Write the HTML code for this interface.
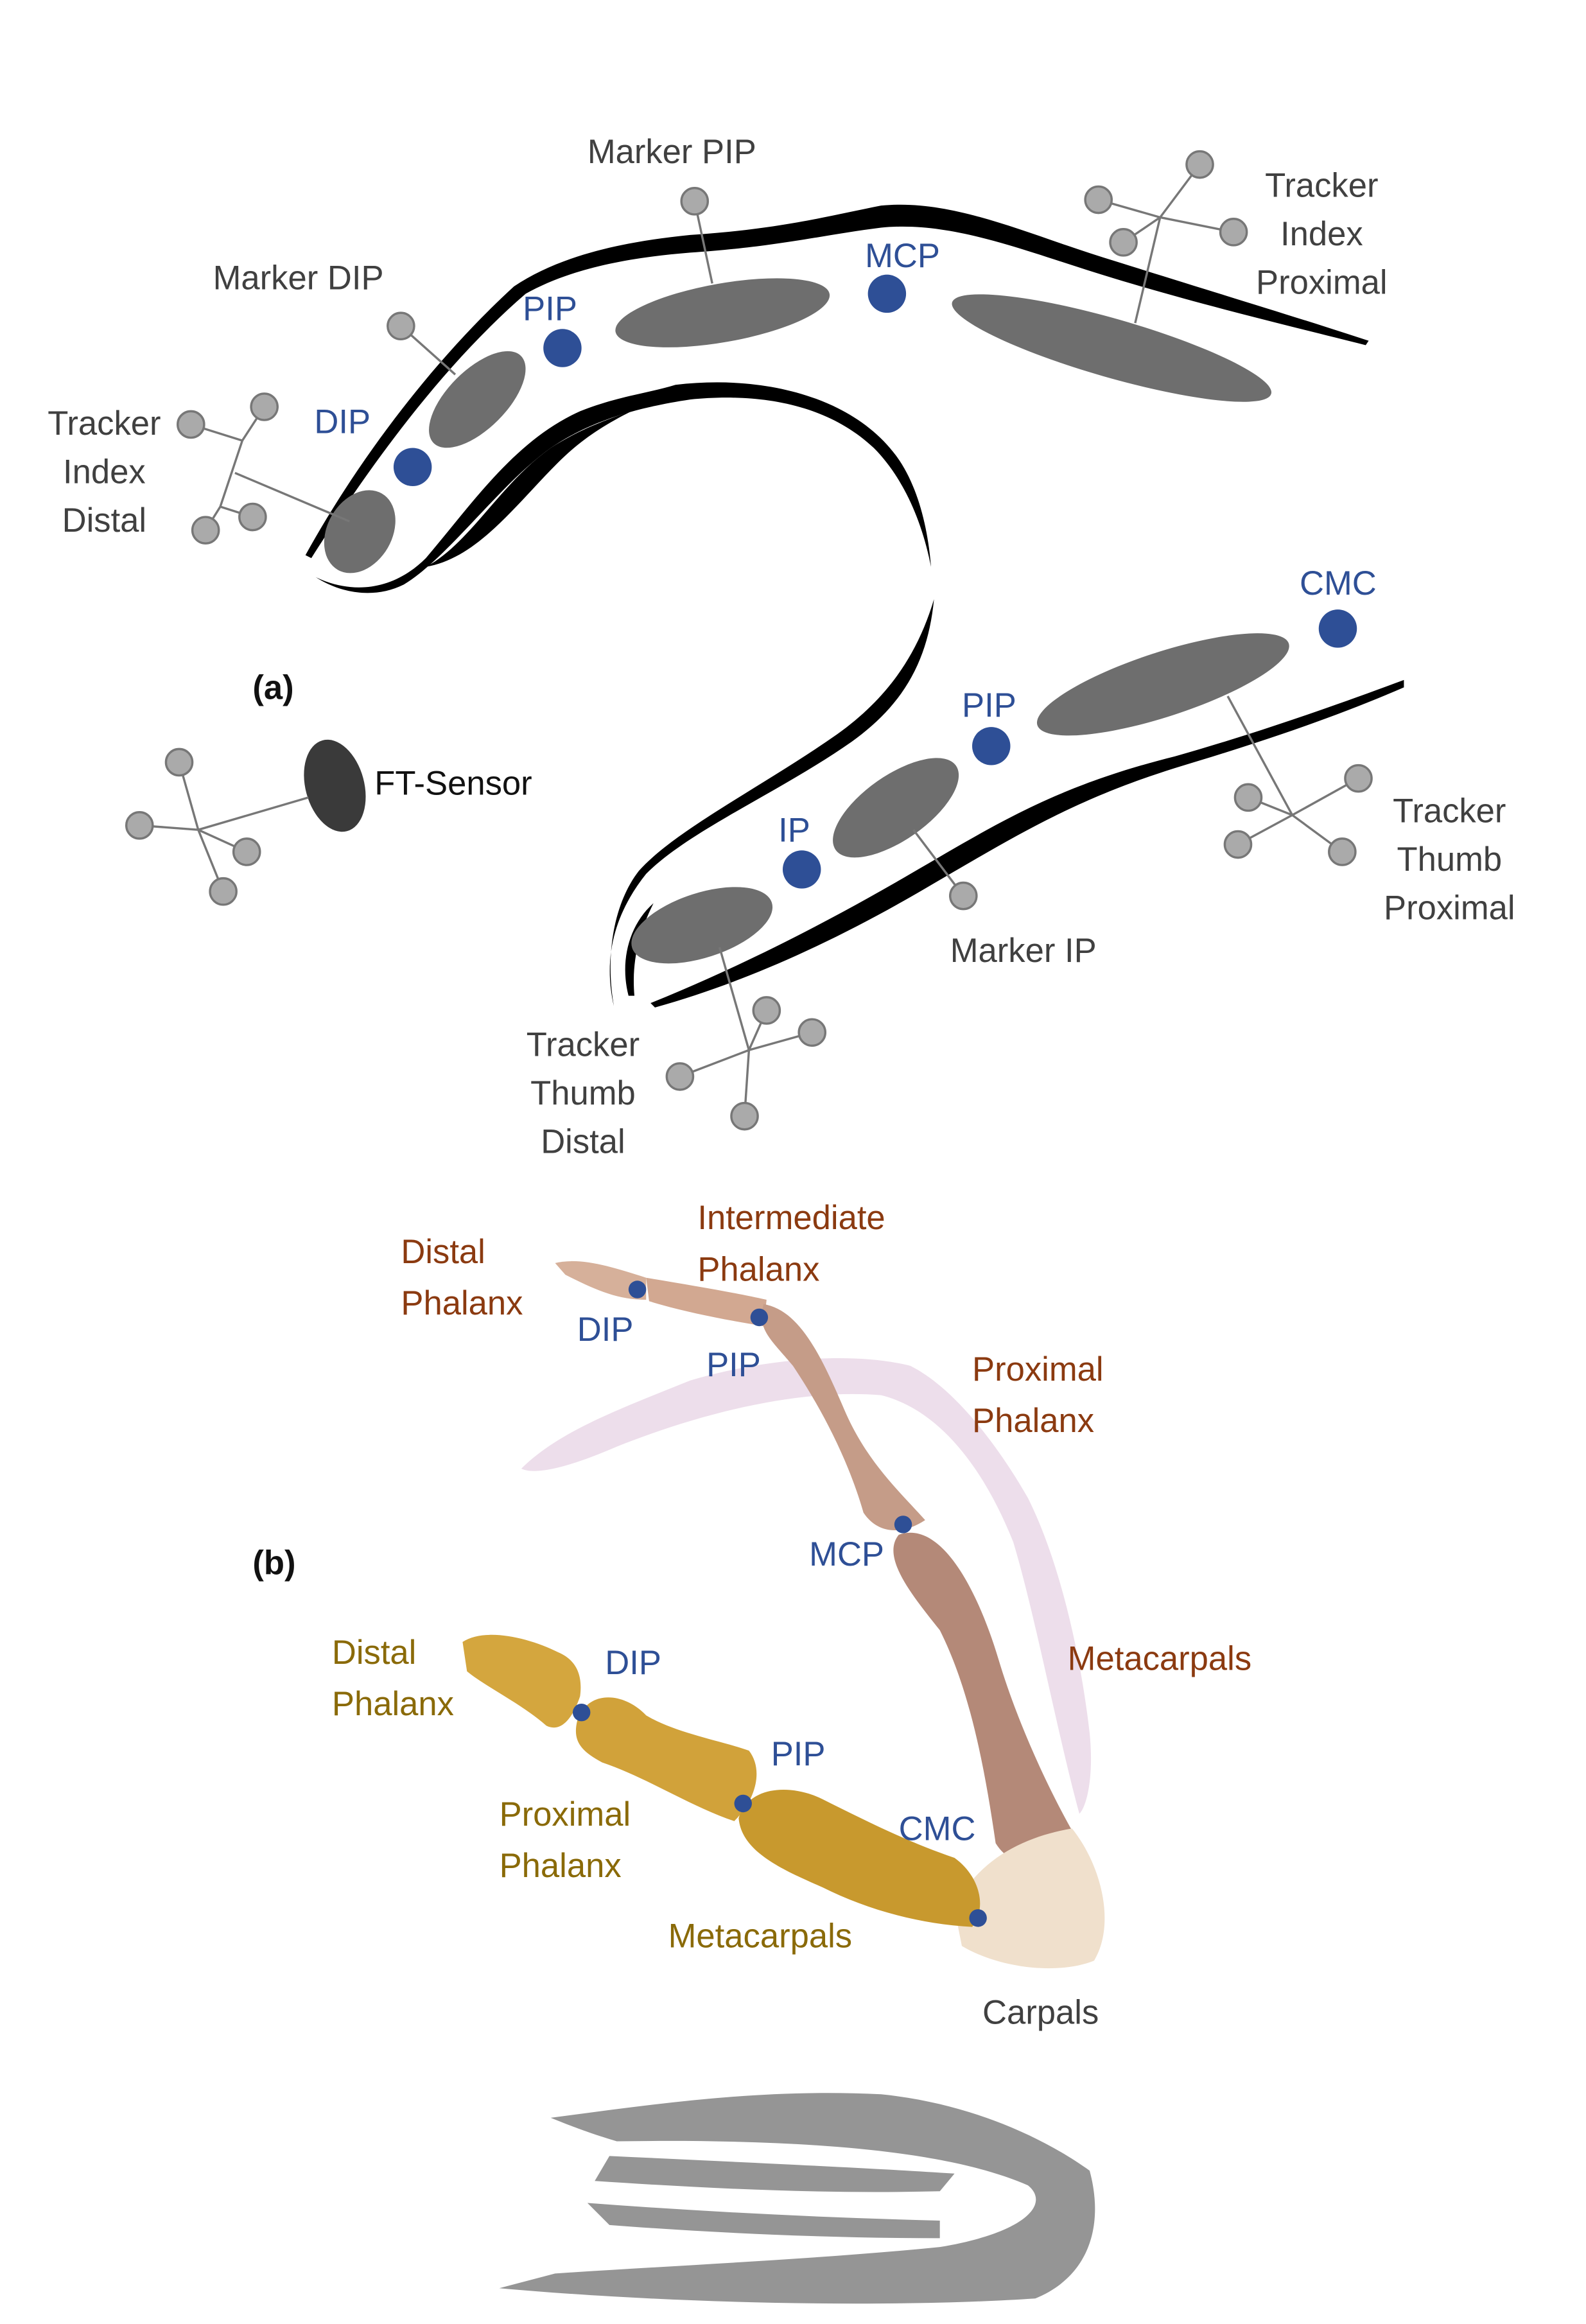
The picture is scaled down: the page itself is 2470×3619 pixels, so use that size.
<!DOCTYPE html>
<html><head><meta charset="utf-8"><style>
html,body{margin:0;padding:0;background:#fff;}
svg{display:block;}
text{font-family:"Liberation Sans",sans-serif;font-size:23px;}
.g{fill:#404040}.b{fill:#2e4f96}.r{fill:#8b3a10}.y{fill:#8a6a08}.k{fill:#111}
.tc{fill:#aaa;stroke:#777;stroke-width:1.5}
.tl{stroke:#777;stroke-width:1.5;fill:none}
.el{fill:#6e6e6e}
</style></head><body>
<svg width="2470" height="3619" viewBox="0 0 1080 1582.4" preserveAspectRatio="none" xmlns="http://www.w3.org/2000/svg">
<g>
 <path d="M208,378 C240,320 290,250 350,195 C380,175 420,165 470,160 C530,156 560,148 600,140 C650,135 700,160 760,178 C830,200 880,215 932,232 L930,235 C870,220 820,208 760,190 C700,172 650,150 600,155 C560,160 530,168 470,172 C420,176 385,185 358,200 C300,250 250,320 212,380 Z" fill="#000"/>
 <path d="M215,393 C240,405 268,402 290,380 C320,345 350,300 395,280 C420,270 440,268 460,262 C520,255 580,270 610,310 C625,330 632,360 634,386 C628,355 615,325 595,305 C560,272 510,268 470,272 C430,278 400,288 375,305 C340,330 305,380 275,398 C255,408 232,404 215,393 Z" fill="#000"/>
 <path d="M290,386 C320,370 340,330 375,305 C395,292 415,285 430,280 C410,290 395,300 380,315 C350,345 325,380 290,386 Z" fill="#000"/>
 <path d="M636,408 C632,450 615,480 580,505 C530,540 470,565 440,595 C420,620 410,650 418,685 C412,650 418,615 435,593 C460,565 520,535 570,500 C605,475 625,445 636,408 Z" fill="#000"/>
 <path d="M428,678 C422,655 428,630 445,615 C435,635 430,655 432,678 Z" fill="#000"/>
 <path d="M443,683 C500,660 560,630 620,595 C680,560 720,535 800,515 C860,498 910,480 956,463 L956,468 C910,488 860,505 800,523 C730,545 690,570 630,605 C570,640 510,668 446,686 Z" fill="#000"/>
 <ellipse class="el" cx="245" cy="362" rx="22" ry="30" transform="rotate(30 245 362)"/>
 <ellipse class="el" cx="325" cy="272" rx="20" ry="42" transform="rotate(45 325 272)"/>
 <ellipse class="el" cx="492" cy="213" rx="74" ry="20" transform="rotate(-10 492 213)"/>
 <ellipse class="el" cx="757" cy="237" rx="113" ry="20" transform="rotate(16 757 237)"/>
 <ellipse class="el" cx="478" cy="630" rx="50" ry="22" transform="rotate(-18 478 630)"/>
 <ellipse class="el" cx="610" cy="550" rx="50" ry="22" transform="rotate(-35 610 550)"/>
 <ellipse class="el" cx="792" cy="466" rx="90" ry="22" transform="rotate(-18 792 466)"/>
 <ellipse cx="228" cy="535" rx="20" ry="32" transform="rotate(-15 228 535)" fill="#3a3a3a"/>
 <g>
  <path class="tl" d="M238,355 L160,322 M130,289 L165,300 L180,277 M165,300 L150,345 L140,361 M150,345 L172,352"/>
  <circle class="tc" cx="130" cy="289" r="9"/><circle class="tc" cx="180" cy="277" r="9"/><circle class="tc" cx="140" cy="361" r="9"/><circle class="tc" cx="172" cy="352" r="9"/>
 </g>
 <g><path class="tl" d="M273,222 L310,255"/><circle class="tc" cx="273" cy="222" r="9"/></g>
 <g><path class="tl" d="M473,137 L485,193"/><circle class="tc" cx="473" cy="137" r="9"/></g>
 <g>
  <path class="tl" d="M773,220 L790,148 M748,136 L790,148 L840,158 M790,148 L817,112 M790,148 L765,165"/>
  <circle class="tc" cx="748" cy="136" r="9"/><circle class="tc" cx="817" cy="112" r="9"/><circle class="tc" cx="840" cy="158" r="9"/><circle class="tc" cx="765" cy="165" r="9"/>
 </g>
 <g>
  <path class="tl" d="M210,543 L135,565 M122,519 L135,565 L152,607 M95,562 L135,565 M135,565 L168,580"/>
  <circle class="tc" cx="122" cy="519" r="9"/><circle class="tc" cx="95" cy="562" r="9"/><circle class="tc" cx="152" cy="607" r="9"/><circle class="tc" cx="168" cy="580" r="9"/>
 </g>
 <g><path class="tl" d="M622,565 L656,610"/><circle class="tc" cx="656" cy="610" r="9"/></g>
 <g>
  <path class="tl" d="M490,645 L510,715 M463,733 L510,715 L553,703 M510,715 L507,760 M510,715 L522,688"/>
  <circle class="tc" cx="463" cy="733" r="9"/><circle class="tc" cx="553" cy="703" r="9"/><circle class="tc" cx="507" cy="760" r="9"/><circle class="tc" cx="522" cy="688" r="9"/>
 </g>
 <g>
  <path class="tl" d="M836,474 L880,555 M843,575 L880,555 L925,530 M880,555 L850,543 M880,555 L914,580"/>
  <circle class="tc" cx="843" cy="575" r="9"/><circle class="tc" cx="925" cy="530" r="9"/><circle class="tc" cx="850" cy="543" r="9"/><circle class="tc" cx="914" cy="580" r="9"/>
 </g>
 <g fill="#2e4f96">
  <circle cx="281" cy="318" r="13"/><circle cx="383" cy="237" r="13"/><circle cx="604" cy="200" r="13"/>
  <circle cx="911" cy="428" r="13"/><circle cx="675" cy="508" r="13"/><circle cx="546" cy="592" r="13"/>
 </g>
 <text class="g" x="400" y="111">Marker PIP</text>
 <text class="g" x="145" y="197">Marker DIP</text>
 <text class="g" text-anchor="middle"><tspan x="900" y="134">Tracker</tspan><tspan x="900" y="167">Index</tspan><tspan x="900" y="200">Proximal</tspan></text>
 <text class="g" text-anchor="middle"><tspan x="71" y="296">Tracker</tspan><tspan x="71" y="329">Index</tspan><tspan x="71" y="362">Distal</tspan></text>
 <text class="b" x="214" y="295">DIP</text>
 <text class="b" x="356" y="218">PIP</text>
 <text class="b" x="589" y="182">MCP</text>
 <text class="b" x="885" y="405">CMC</text>
 <text class="b" x="655" y="488">PIP</text>
 <text class="b" x="530" y="573">IP</text>
 <text class="k" x="172" y="476" font-weight="bold" font-size="28">(a)</text>
 <text class="k" x="255" y="541">FT-Sensor</text>
 <text class="g" x="647" y="655">Marker IP</text>
 <text class="g" text-anchor="middle"><tspan x="987" y="560">Tracker</tspan><tspan x="987" y="593">Thumb</tspan><tspan x="987" y="626">Proximal</tspan></text>
 <text class="g" text-anchor="middle"><tspan x="397" y="719">Tracker</tspan><tspan x="397" y="752">Thumb</tspan><tspan x="397" y="785">Distal</tspan></text>
</g>
<g>
 <path d="M355,1000 C380,975 420,960 470,940 C520,925 580,920 620,930 C650,945 680,985 700,1020 C720,1060 735,1120 742,1180 C745,1210 740,1230 735,1235 C720,1180 705,1100 690,1050 C670,1000 640,960 600,950 C540,945 470,965 420,985 C390,998 365,1005 355,1000 Z" fill="#e8d6e6" opacity="0.8"/>
 <path d="M378,860 C395,856 415,862 440,870 L440,885 C420,885 405,878 385,868 Z" fill="#d6b09a"/>
 <path d="M440,870 C470,875 500,880 522,885 L520,903 C490,898 465,893 442,886 Z" fill="#d2a891"/>
 <path d="M520,888 C545,892 560,925 575,960 C590,995 612,1015 630,1035 C615,1045 598,1045 588,1030 C578,995 560,960 540,930 C525,912 515,905 520,888 Z" fill="#c59c88"/>
 <path d="M612,1045 C640,1035 665,1080 680,1130 C695,1180 720,1230 735,1255 C720,1275 690,1275 678,1255 C670,1200 660,1150 640,1110 C620,1085 600,1060 612,1045 Z" fill="#b48978"/>
 <path d="M650,1300 C665,1265 700,1250 730,1245 C750,1270 760,1310 745,1335 C720,1345 680,1340 655,1325 Z" fill="#f0e0cc"/>
 <path d="M315,1118 C330,1108 360,1115 380,1125 C392,1130 397,1140 395,1155 C390,1170 382,1180 372,1175 C355,1160 330,1148 318,1138 Z" fill="#d4a63e"/>
 <path d="M393,1172 C400,1150 425,1152 440,1168 C460,1180 490,1185 510,1192 C520,1205 515,1225 500,1240 C470,1230 440,1210 410,1200 C395,1192 390,1185 393,1172 Z" fill="#d1a23a"/>
 <path d="M503,1238 C510,1215 540,1215 560,1225 C590,1240 620,1255 650,1265 C668,1278 672,1300 662,1312 C625,1310 590,1300 560,1285 C530,1272 505,1260 503,1238 Z" fill="#c8992e"/>
 <g fill="#2e4f96">
  <circle cx="434" cy="878" r="6"/><circle cx="517" cy="897" r="6"/><circle cx="615" cy="1038" r="6"/>
  <circle cx="396" cy="1166" r="6"/><circle cx="506" cy="1228" r="6"/><circle cx="666" cy="1306" r="6"/>
 </g>
 <text class="k" x="172" y="1072" font-weight="bold" font-size="28">(b)</text>
 <text class="r"><tspan x="273" y="860">Distal</tspan><tspan x="273" y="895">Phalanx</tspan></text>
 <text class="r"><tspan x="475" y="837">Intermediate</tspan><tspan x="475" y="872">Phalanx</tspan></text>
 <text class="r"><tspan x="662" y="940">Proximal</tspan><tspan x="662" y="975">Phalanx</tspan></text>
 <text class="r" x="727" y="1137">Metacarpals</text>
 <text class="b" x="393" y="913">DIP</text>
 <text class="b" x="481" y="937">PIP</text>
 <text class="b" x="551" y="1066">MCP</text>
 <text class="b" x="412" y="1140">DIP</text>
 <text class="b" x="525" y="1202">PIP</text>
 <text class="b" x="612" y="1253">CMC</text>
 <text class="y"><tspan x="226" y="1133">Distal</tspan><tspan x="226" y="1168">Phalanx</tspan></text>
 <text class="y"><tspan x="340" y="1243">Proximal</tspan><tspan x="340" y="1278">Phalanx</tspan></text>
 <text class="y" x="455" y="1326">Metacarpals</text>
 <text class="g" x="669" y="1378">Carpals</text>
</g>
<g fill="#8a8a8a">
 <path d="M375,1442 C450,1432 520,1422 600,1426 C660,1432 710,1455 742,1478 C752,1515 742,1550 705,1565 C600,1572 450,1568 340,1558 L378,1548 C470,1542 560,1538 640,1530 C700,1520 715,1500 700,1488 C650,1466 560,1456 420,1458 C400,1452 390,1448 375,1442 Z" opacity="0.9"/>
 <path d="M415,1468 C500,1472 590,1476 650,1480 L640,1492 C560,1494 480,1490 405,1485 Z" opacity="0.9"/>
 <path d="M400,1500 C480,1506 560,1510 640,1512 L640,1524 C560,1524 480,1520 415,1515 Z" opacity="0.9"/>
</g>
</svg>
</body></html>
